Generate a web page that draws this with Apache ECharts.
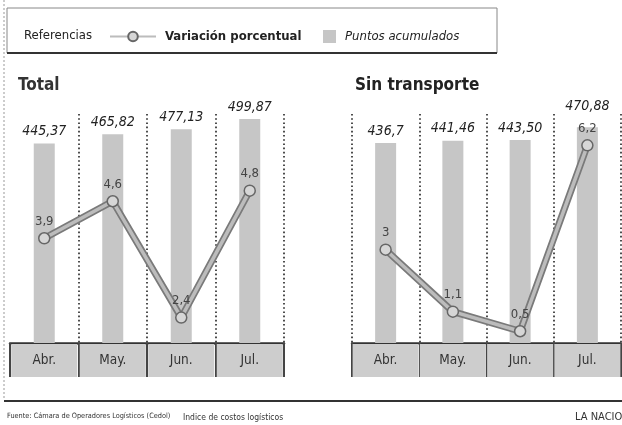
<!DOCTYPE html>
<html>
<head>
<meta charset="utf-8">
<script src="https://cdn.jsdelivr.net/npm/echarts@6/dist/echarts.min.js"></script>
<style>
html,body{margin:0;padding:0;background:#fff;}
#chart{width:622px;height:425px;}
</style>
</head>
<body>
<div id="chart"></div>
<script>
// ---- data ----
const categories = ['Abr.', 'May.', 'Jun.', 'Jul.'];
const totalPuntos = [445.37, 465.82, 477.13, 499.87];
const totalPuntosText = ['445,37', '465,82', '477,13', '499,87'];
const totalVariacion = [3.9, 4.6, 2.4, 4.8];
const sinTranspPuntos = [436.7, 441.46, 443.50, 470.88];
const sinTranspPuntosText = ['436,7', '441,46', '443,50', '470,88'];
const sinTranspVariacion = [3, 1.1, 0.5, 6.2];

const F = '"Liberation Sans Narrow", "DejaVu Sans Condensed", "Arial Narrow", sans-serif';
const chart = echarts.init(document.getElementById('chart'), null, {renderer: 'canvas'});

function xAxisFor(gridIndex, showMin) {
  return {
    type: 'category', gridIndex: gridIndex, data: categories,
    axisLine: {show: true, lineStyle: {color: '#333', width: 2.5}},
    axisTick: {show: true, interval: 0, length: 34, lineStyle: {color: '#444', width: 2}},
    axisLabel: {
      interval: 0, margin: 1, color: '#333', fontFamily: F, fontSize: 13.5,
      backgroundColor: '#cdcdcd', width: 66, height: 33, lineHeight: 33, align: 'center'
    },
    splitLine: {show: true, interval: 0, showMinLine: showMin, showMaxLine: true,
      lineStyle: {color: '#222', width: 1.6, type: [1.6, 2.6]}}
  };
}
function yHidden(gridIndex, min, max) {
  return {type: 'value', gridIndex: gridIndex, min: min, max: max, show: false,
    splitLine: {show: false}};
}
function barSeries(idx, values, texts, specialDist) {
  return {
    name: 'Puntos acumulados', type: 'bar', xAxisIndex: idx, yAxisIndex: idx * 2,
    barWidth: 21, z: 2,
    itemStyle: {color: '#c6c6c6'},
    data: values.map((v, i) => {
      const item = {value: v};
      if (specialDist && i === values.length - 1) item.label = {distance: specialDist};
      return item;
    }),
    label: {show: true, position: 'top', distance: 5, color: '#222', fontFamily: F,
      fontSize: 14, fontStyle: 'italic', formatter: p => texts[p.dataIndex]}
  };
}
function lineSeries(idx, values) {
  return [{
    name: 'contorno', type: 'line', xAxisIndex: idx, yAxisIndex: idx * 2 + 1,
    data: values, showSymbol: false, silent: true, z: 3,
    lineStyle: {color: '#7a7a7a', width: 7}
  }, {
    name: 'Variación porcentual', type: 'line', xAxisIndex: idx, yAxisIndex: idx * 2 + 1,
    data: values, z: 4, symbol: 'circle', symbolSize: 11, showSymbol: true,
    lineStyle: {color: '#bcbcbc', width: 3.5},
    itemStyle: {color: '#d6d6d6', borderColor: '#666', borderWidth: 1.5},
    label: {show: true, position: 'top', distance: 4, color: '#444', fontFamily: F,
      fontSize: 13, formatter: p => String(p.value).replace('.', ',')}
  }];
}

const option = {
  animation: false,
  backgroundColor: '#ffffff',
  title: [
    {text: 'Referencias', left: 19, top: 24, textStyle: {fontFamily: F, fontSize: 13, fontWeight: 'normal', color: '#222'}},
    {text: 'Total', left: 13, top: 72, textStyle: {fontFamily: F, fontSize: 17, fontWeight: 'bold', color: '#333'}},
    {text: 'Sin transporte', left: 350, top: 72, textStyle: {fontFamily: F, fontSize: 17, fontWeight: 'bold', color: '#222'}},
    {text: 'Fuente: Cámara de Operadores Logísticos (Cedol)', left: 2, top: 408, textStyle: {fontFamily: F, fontSize: 7.3, fontWeight: 'normal', color: '#333'}},
    {text: 'Indice de costos logísticos', left: 178, top: 408, textStyle: {fontFamily: F, fontSize: 8.5, fontWeight: 'normal', color: '#333'}},
    {text: 'LA NACION', left: 570, top: 407, textStyle: {fontFamily: F, fontSize: 11, fontWeight: 'normal', color: '#333'}}
  ],
  legend: [
    {data: ['Variación porcentual'], left: 104, top: 25, selectedMode: false,
      itemWidth: 46, itemHeight: 12,
      textStyle: {fontFamily: F, fontSize: 13, fontWeight: 'bold', color: '#222', padding: [0, 0, 0, 4]}},
    {data: [{name: 'Puntos acumulados', icon: 'rect'}], left: 318, top: 25, selectedMode: false,
      itemWidth: 13, itemHeight: 13,
      textStyle: {fontFamily: F, fontSize: 13, fontStyle: 'italic', color: '#222', padding: [0, 0, 0, 4]}}
  ],
  grid: [
    {left: 10, right: 338, top: 114, bottom: 82, outerBoundsMode: 'none', containLabel: false},
    {left: 352, right: 1, top: 114, bottom: 82, outerBoundsMode: 'none', containLabel: false}
  ],
  xAxis: [xAxisFor(0, false), xAxisFor(1, true)],
  yAxis: [
    yHidden(0, 0, 511), yHidden(0, 1.92, 6.25),
    yHidden(1, 0, 500), yHidden(1, 0.14, 7.16)
  ],
  series: [
    barSeries(0, totalPuntos, totalPuntosText, null),
    ...lineSeries(0, totalVariacion),
    barSeries(1, sinTranspPuntos, sinTranspPuntosText, 14),
    ...lineSeries(1, sinTranspVariacion)
  ],
  graphic: [
    {type: 'rect', shape: {x: 7, y: 8, width: 490, height: 45}, style: {fill: 'none', stroke: '#888', lineWidth: 1}, silent: true},
    {type: 'line', shape: {x1: 7, y1: 53, x2: 497, y2: 53}, style: {stroke: '#333', lineWidth: 2}, silent: true},
    {type: 'line', shape: {x1: 4, y1: 0, x2: 4, y2: 400}, style: {stroke: '#999', lineWidth: 1, lineDash: [2, 2]}, silent: true},
    {type: 'line', shape: {x1: 4, y1: 401, x2: 622, y2: 401}, style: {stroke: '#333', lineWidth: 2}, silent: true}
  ]
};
chart.setOption(option);
</script>
</body>
</html>
